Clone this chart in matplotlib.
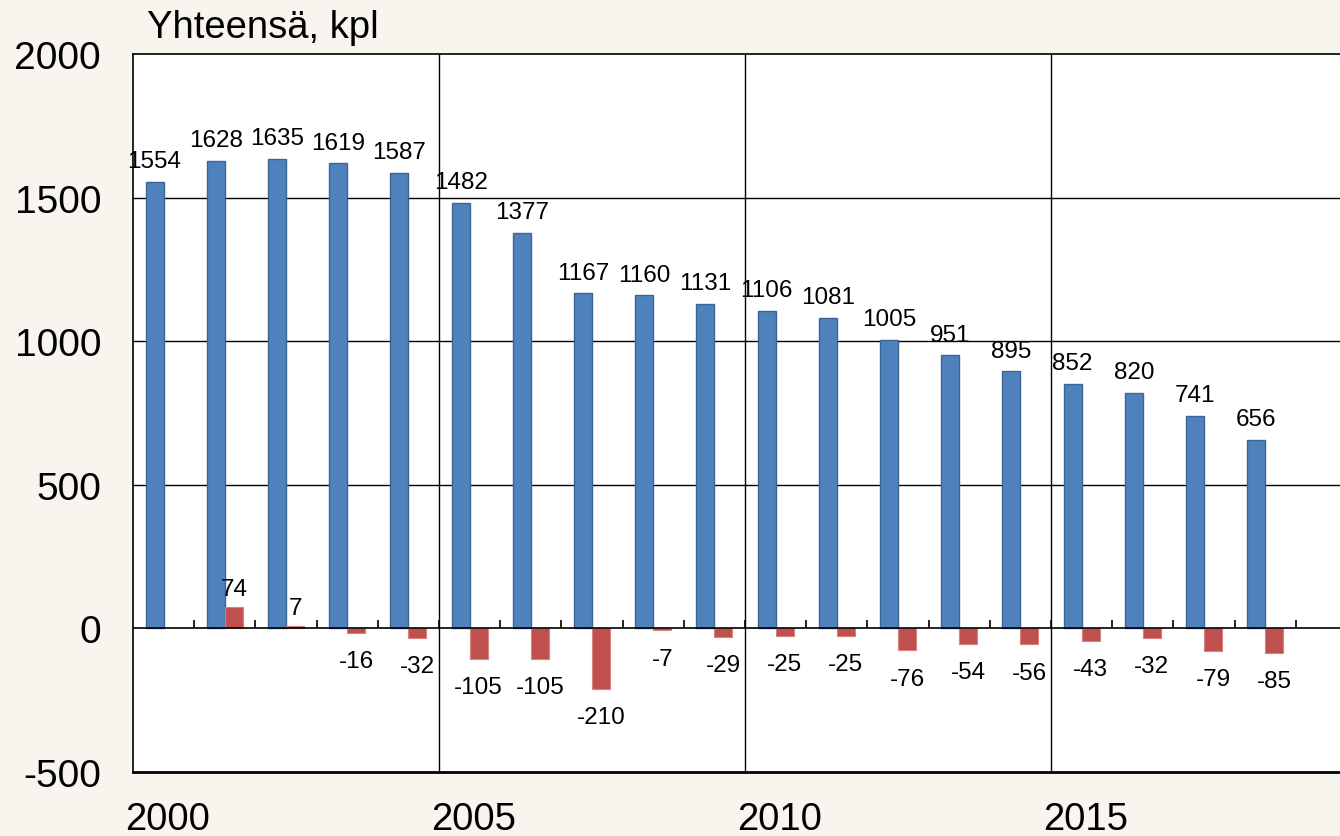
import matplotlib
matplotlib.use("Agg")
import matplotlib.pyplot as plt
import matplotlib.transforms as mtransforms
import numpy as np

plt.rcParams['font.family'] = ['Liberation Sans', 'DejaVu Sans']
plt.rcParams['axes.unicode_minus'] = False

# data
years = list(range(2000, 2019))
total = [1554, 1628, 1635, 1619, 1587, 1482, 1377, 1167, 1160, 1131,
         1106, 1081, 1005, 951, 895, 852, 820, 741, 656]
change = [np.nan, 74, 7, -16, -32, -105, -105, -210, -7, -29,
          -25, -25, -76, -54, -56, -43, -32, -79, -85]
year_ticks = [2000, 2005, 2010, 2015]

bg = '#F8F4EE'
blue = '#4F81BD'
red = '#C0504D'

W, H = 1340, 837
fig = plt.figure(figsize=(W / 100, H / 100), dpi=100, facecolor=bg)
# plot area runs past the right edge of the picture, as in the original
ax = fig.add_axes([133 / W, (H - 773) / H, 1224 / W, (773 - 55) / H])
ax.set_facecolor('white')

x = np.arange(len(years))
bw = 0.295
ax.bar(x + 0.5 - bw / 2, total, bw, color=blue, edgecolor='#3D6593', linewidth=1, zorder=3)
ax.bar(x + 0.5 + bw / 2, change, bw, color=red, edgecolor='#D8827F', linewidth=0.8, zorder=3)

lab_size = 17.5
for xi, v in zip(x, total):
    ax.annotate(str(v), (xi + 0.5 - bw / 2, v), xytext=(0, 7), textcoords='offset points',
                ha='center', va='bottom', fontsize=lab_size, zorder=5)
for xi, v in zip(x, change):
    if np.isnan(v):
        continue
    if v >= 0:
        ax.annotate(str(v), (xi + 0.5 + bw / 2, v), xytext=(0, 5), textcoords='offset points',
                    ha='center', va='bottom', fontsize=lab_size, zorder=5)
    else:
        ax.annotate(str(v), (xi + 0.5 + bw / 2, v), xytext=(0, -12.5), textcoords='offset points',
                    ha='center', va='top', fontsize=lab_size, zorder=5)

ax.set_xlim(0, 20)
ax.set_ylim(-500, 2000)
ax.set_yticks([-500, 0, 500, 1000, 1500, 2000])
ax.tick_params(axis='y', length=0, labelsize=28, pad=23)

# gridlines
for yv in [500, 1000, 1500]:
    ax.axhline(yv, color='black', linewidth=1, zorder=1)
ax.axhline(0, color='black', linewidth=1.2, zorder=4)
for yr in year_ticks[1:]:
    ax.axvline(years.index(yr), color='black', linewidth=1, zorder=1)
# small tick marks on the zero line at category borders
ax.vlines(np.arange(1, 21), 0, 28, color='black', linewidth=1.2, zorder=4)

ax.set_xticks([years.index(y) + 0.5 for y in year_ticks])
ax.set_xticklabels([str(y) for y in year_ticks])
ax.tick_params(axis='x', length=0, labelsize=27.5, pad=21)
shift = mtransforms.ScaledTranslation(3 / 72, 0, fig.dpi_scale_trans)
for lbl in ax.get_xticklabels():
    lbl.set_transform(lbl.get_transform() + shift)

for s in ['left', 'top', 'right']:
    ax.spines[s].set_linewidth(1.2)
ax.spines['bottom'].set_linewidth(2)

fig.text(147 / W, 1 - 38 / H, 'Yhteensä, kpl', fontsize=27.5, va='baseline', ha='left')

fig.savefig('out.png', dpi=100, facecolor=bg)
